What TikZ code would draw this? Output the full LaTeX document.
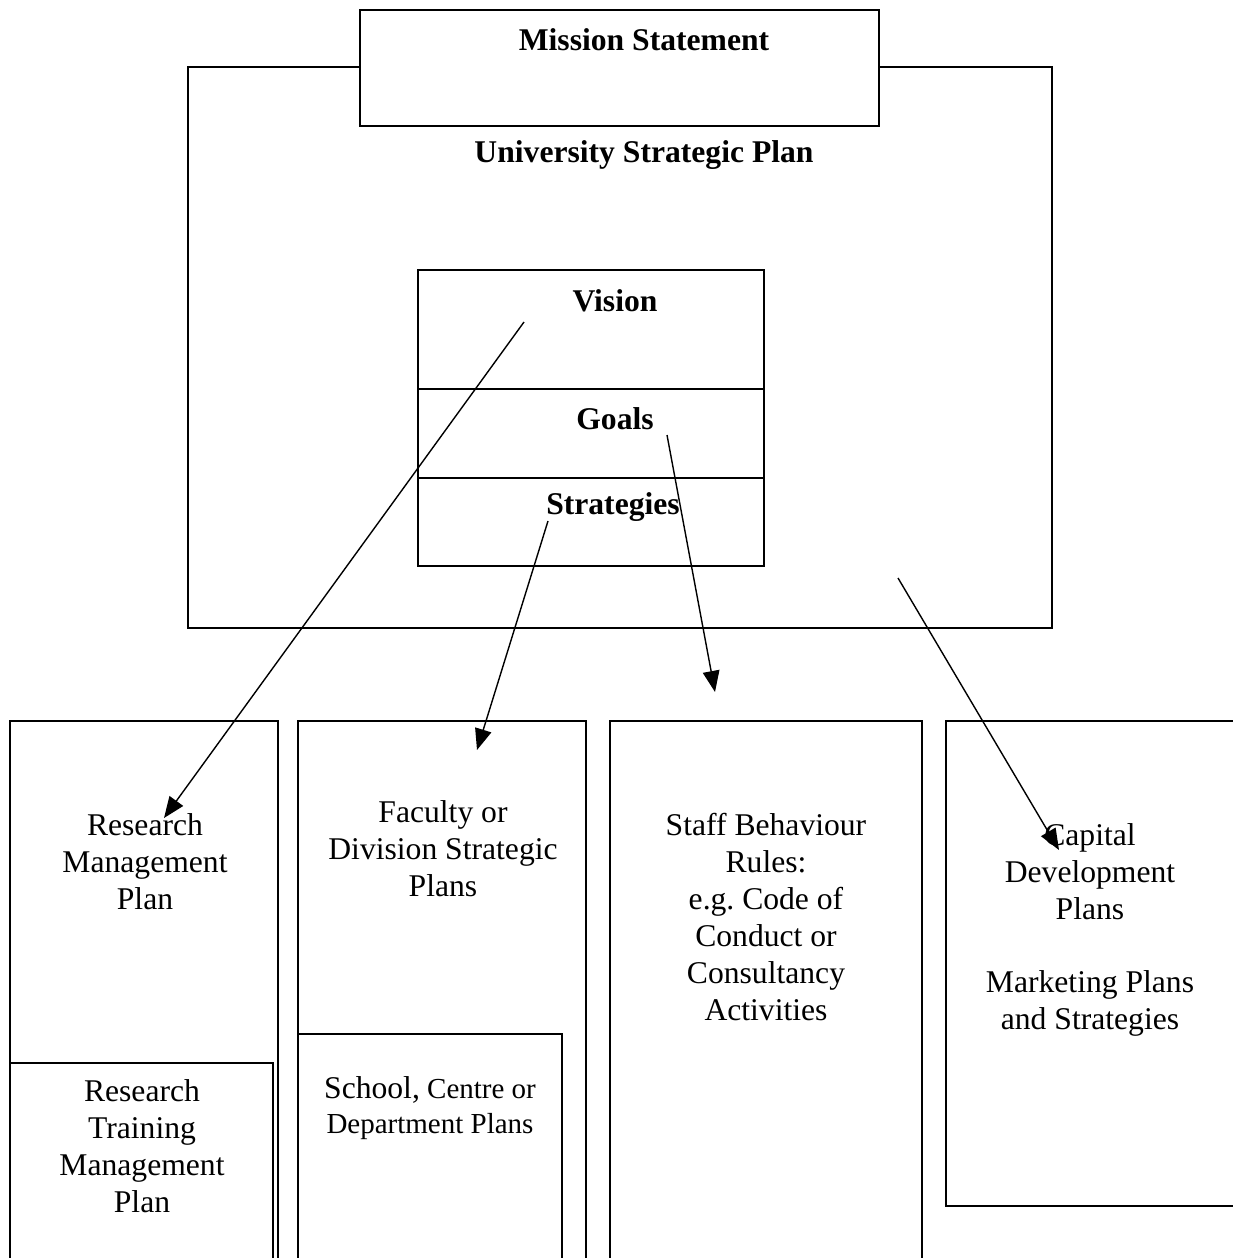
\documentclass[tikz,border=0pt]{standalone}
\usepackage{fontspec}
\setmainfont{Liberation Serif}
\usetikzlibrary{arrows.meta}
\tikzset{
  head/.style={font=\fontsize{18}{21}\selectfont\bfseries, inner sep=0pt},
  plain/.style={font=\fontsize{18}{21}\selectfont, align=center, inner sep=0pt},
  small/.style={font=\fontsize{16.5}{20}\selectfont, align=center, inner sep=0pt},
  arr/.style={-{Triangle[length=12pt,width=9.5pt]}, line width=0.8pt},
}
\begin{document}
\begin{tikzpicture}[x=0.02cm, y=-0.02cm, line width=0.9pt]
\clip (0,0) rectangle (1233,1258);

% university plan with mission statement on top
\draw (188,67) rectangle (1052,628);
\draw[fill=white] (360,10) rectangle (879,126);
\draw (418,270) rectangle (764,566);
\draw (418,389) -- (764,389);
\draw (418,478) -- (764,478);

% lower plans
\draw (10,721) rectangle (278,1270);
\draw[fill=white] (10,1063) rectangle (273,1270);
\draw (298,721) rectangle (586,1270);
\draw[fill=white] (298,1034) rectangle (562,1270);
\draw (610,721) rectangle (922,1270);
\draw (946,721) rectangle (1245,1206);

\draw (644,40) node[head] (mission) {Mission Statement};
\draw (644,155) node[head] (usp) {University Strategic Plan};
\draw (615,301) node[head] (vision) {Vision};
\draw (615,419) node[head] (goals) {Goals};
\draw (613,507) node[head] (strat) {Strategies};

\draw (145,862) node[plain] (rmp) {Research\\Management\\Plan};
\draw (443,849) node[plain] (fac) {Faculty or\\Division Strategic\\Plans};
\draw (766,917) node[plain] (staff) {Staff Behaviour\\Rules:\\e.g.\ Code of\\Conduct or\\Consultancy\\Activities};
\draw (1090,930) node[plain] (cap) {Capital\\Development\\Plans\\[21pt]Marketing Plans\\and Strategies};
\draw (142,1146) node[plain] (rtmp) {Research\\Training\\Management\\Plan};
\draw (430,1108) node[small] (school) {{\fontsize{18}{20}\selectfont School,} Centre or\\Department Plans};

% arrow ends
\coordinate (v0) at (524,322);
\coordinate (v1) at (164,818);
\coordinate (s0) at (548,521);
\coordinate (s1) at (477,750);
\coordinate (g0) at (667,435);
\coordinate (g1) at (715,692);
\coordinate (p0) at (898,578);
\coordinate (p1) at (1059,850);

\draw[arr] (v0) -- (v1);
\draw[arr] (s0) -- (s1);
\draw[arr] (g0) -- (g1);
\draw[arr] (p0) -- (p1);

\end{tikzpicture}
\end{document}
